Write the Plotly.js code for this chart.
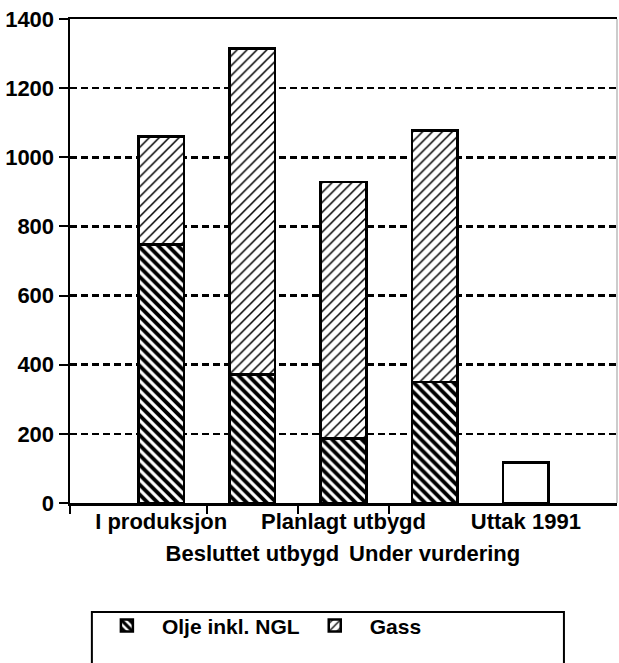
<!DOCTYPE html>
<html>
<head>
<meta charset="utf-8">
<script src="https://cdn.plot.ly/plotly-3.0.1.min.js"></script>
<style>html,body{margin:0;padding:0;background:#fff;}#chart{width:619px;height:663px;}</style>
</head>
<body>
<div id="chart"></div>
<script>
// Categories (x axis)
var categories = ["I produksjon", "Besluttet utbygd", "Planlagt utbygd", "Under vurdering", "Uttak 1991"];
// Series values
var olje = [748, 371, 187, 350, null];
var gass = [312, 944, 741, 727, null];
var uttak = [null, null, null, null, 117];
// Series names
var seriesNames = ["Olje inkl. NGL", "Gass"];
// Y tick values
var yTicks = [0, 200, 400, 600, 800, 1000, 1200, 1400];

var idx = categories.map(function (_, i) { return i; });
var boundaries = [-1].concat(categories.slice(1, categories.length - 1).map(function (_, i) { return i + 0.5; }));
var evenIdx = idx.filter(function (i) { return i % 2 === 0; });
var oddIdx = idx.filter(function (i) { return i % 2 === 1; });

var FONT = "Liberation Sans, Arial, Helvetica, sans-serif";
var lineStyle = { color: "black", width: 2.5 };
var labFont = { family: FONT, size: 22, color: "black", weight: "bold" };

var traces = [
  {
    type: "bar", name: seriesNames[0], x: idx, y: olje, width: 0.5,
    marker: { color: "white", line: lineStyle,
      pattern: { shape: "\\", fgcolor: "black", bgcolor: "white", size: 7, solidity: 0.55, fillmode: "replace" } },
    legend: "legend", hoverinfo: "skip"
  },
  {
    type: "bar", name: seriesNames[1], x: idx, y: gass, width: 0.5,
    marker: { color: "white", line: lineStyle,
      pattern: { shape: "/", fgcolor: "black", bgcolor: "white", size: 7, solidity: 0.22, fillmode: "replace" } },
    legend: "legend2", hoverinfo: "skip"
  },
  {
    type: "bar", name: categories[4], x: idx, y: uttak, width: 0.5,
    marker: { color: "white", line: lineStyle }, showlegend: false, hoverinfo: "skip"
  },
  {
    type: "scatter", mode: "markers", x: idx, y: idx.map(function () { return null; }),
    xaxis: "x2", showlegend: false, hoverinfo: "skip"
  },
  {
    type: "scatter", mode: "markers", x: idx, y: idx.map(function () { return null; }),
    xaxis: "x3", showlegend: false, hoverinfo: "skip"
  }
];

var layout = {
  width: 619, height: 663,
  margin: { l: 70, r: 2, t: 19, b: 160, pad: 0 },
  paper_bgcolor: "white", plot_bgcolor: "white",
  barmode: "stack",
  font: { family: FONT, size: 22, color: "black" },
  xaxis: {
    type: "linear", range: [-1, 5], fixedrange: true,
    tickmode: "array", tickvals: boundaries, showticklabels: false,
    ticks: "outside", ticklen: 8, tickwidth: 2, tickcolor: "black",
    showline: true, linecolor: "black", linewidth: 2.5, mirror: true,
    showgrid: false, zeroline: false
  },
  xaxis2: {
    overlaying: "x", anchor: "y", side: "bottom", matches: "x",
    range: [-1, 5], tickmode: "array",
    tickvals: evenIdx, ticktext: evenIdx.map(function (i) { return categories[i]; }),
    tickangle: 0, automargin: false,
    ticks: "", showline: false, showgrid: false, zeroline: false,
    tickfont: labFont, ticklabelstandoff: 3
  },
  xaxis3: {
    overlaying: "x", anchor: "y", side: "bottom", matches: "x",
    range: [-1, 5], tickmode: "array",
    tickvals: oddIdx, ticktext: oddIdx.map(function (i) { return categories[i]; }),
    tickangle: 0, automargin: false,
    ticks: "", showline: false, showgrid: false, zeroline: false,
    tickfont: labFont, ticklabelstandoff: 35
  },
  yaxis: {
    range: [0, 1400], fixedrange: true, automargin: false,
    tickmode: "array", tickvals: yTicks,
    ticks: "outside", ticklen: 9, tickwidth: 2, tickcolor: "black",
    tickfont: labFont,
    showline: true, linecolor: "black", linewidth: 2.5,
    showgrid: true, gridcolor: "black", gridwidth: 2.5, griddash: "7px,4px",
    zeroline: false, ticklabelstandoff: 0
  },
  legend: {
    orientation: "h", x: 0.04, xanchor: "left", y: -0.254, yanchor: "middle",
    bgcolor: "rgba(0,0,0,0)", borderwidth: 0, itemwidth: 60,
    font: { family: FONT, size: 21, color: "black", weight: "bold" }
  },
  legend2: {
    orientation: "h", x: 0.42, xanchor: "left", y: -0.254, yanchor: "middle",
    bgcolor: "rgba(0,0,0,0)", borderwidth: 0, itemwidth: 60,
    font: { family: FONT, size: 21, color: "black", weight: "bold" }
  },
  shapes: [
    { type: "rect", xref: "paper", yref: "paper", x0: 0.04, x1: 0.903, y0: -0.225, y1: -0.40,
      line: { color: "black", width: 2 }, fillcolor: "rgba(0,0,0,0)", layer: "below" },
    { type: "line", xref: "paper", yref: "paper", x0: 1, x1: 1, y0: 0, y1: 1,
      line: { color: "#999", width: 1 } }
  ],
  showlegend: true
};

Plotly.newPlot("chart", traces, layout, { displayModeBar: false, staticPlot: true });
</script>
</body>
</html>
